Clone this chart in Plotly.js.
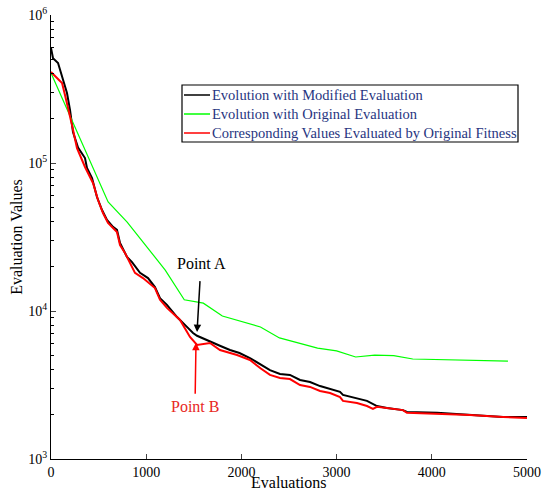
<!DOCTYPE html>
<html>
<head>
<meta charset="utf-8">
<script src="https://cdn.plot.ly/plotly-3.0.1.min.js"></script>
<style>html,body{margin:0;padding:0;background:#fff;}#chart{width:554px;height:497px;}</style>
</head>
<body>
<div id="chart"></div>
<script>
// Evolution with Modified Evaluation (black)
const modX = [0, 21, 74, 126, 168, 200, 231, 284, 357, 378, 431, 483, 536, 588, 651, 693, 725, 798, 851, 935, 1019, 1092, 1145, 1218, 1324, 1420, 1492, 1534, 1600, 1670, 1780, 1880, 1980, 2090, 2200, 2300, 2405, 2510, 2616, 2721, 2826, 2931, 3036, 3067, 3214, 3319, 3424, 3529, 3697, 3739, 4055, 4401, 4748, 5000];
const modY = [6.0e5, 5.1e5, 4.74e5, 3.64e5, 2.97e5, 2.28e5, 1.62e5, 1.27e5, 1.08e5, 9.25e4, 7.92e4, 5.89e4, 4.81e4, 4.12e4, 3.70e4, 3.53e4, 2.88e4, 2.32e4, 2.14e4, 1.81e4, 1.67e4, 1.45e4, 1.22e4, 1.10e4, 9.1e3, 7.9e3, 7.1e3, 6.8e3, 6.5e3, 6.18e3, 5.8e3, 5.45e3, 5.2e3, 4.81e3, 4.35e3, 3.99e3, 3.75e3, 3.70e3, 3.42e3, 3.31e3, 3.11e3, 2.97e3, 2.84e3, 2.71e3, 2.58e3, 2.47e3, 2.28e3, 2.21e3, 2.14e3, 2.08e3, 2.05e3, 1.98e3, 1.92e3, 1.92e3];
// Evolution with Original Evaluation (green)
const origX = [0, 600, 800, 1200, 1400, 1600, 1800, 2200, 2400, 2800, 3000, 3200, 3400, 3600, 3800, 4800];
const origY = [4.06e5, 5.45e4, 3.99e4, 1.89e4, 1.19e4, 1.13e4, 9.25e3, 7.8e3, 6.58e3, 5.62e3, 5.37e3, 4.89e3, 5.04e3, 5.0e3, 4.74e3, 4.59e3];
// Corresponding Values Evaluated by Original Fitness (red)
const corrX = [0, 63, 116, 147, 179, 221, 273, 357, 441, 494, 546, 599, 693, 725, 777, 830, 882, 966, 1061, 1092, 1145, 1218, 1355, 1460, 1534, 1597, 1670, 1775, 1954, 2090, 2200, 2300, 2405, 2510, 2616, 2721, 2826, 2931, 3036, 3067, 3214, 3319, 3382, 3424, 3697, 3739, 4055, 4401, 4748, 5000];
const corrY = [4.12e5, 3.75e5, 3.47e5, 2.88e5, 2.39e5, 1.8e5, 1.26e5, 9.4e4, 7.33e4, 5.62e4, 4.59e4, 3.94e4, 3.42e4, 2.79e4, 2.47e4, 2.11e4, 1.81e4, 1.67e4, 1.50e4, 1.43e4, 1.19e4, 1.05e4, 8.7e3, 6.67e3, 5.89e3, 5.99e3, 6.08e3, 5.45e3, 5.04e3, 4.67e3, 4.1e3, 3.70e3, 3.53e3, 3.47e3, 3.16e3, 3.07e3, 2.88e3, 2.79e3, 2.62e3, 2.47e3, 2.39e3, 2.28e3, 2.18e3, 2.25e3, 2.14e3, 2.05e3, 2.02e3, 1.98e3, 1.92e3, 1.89e3];

const xTicks = [0, 1000, 2000, 3000, 4000, 5000];
const yTicks = [1e3, 1e4, 1e5, 1e6];
const yTickText = ['10<sup>3</sup>', '10<sup>4</sup>', '10<sup>5</sup>', '10<sup>6</sup>'];
const names = ['Evolution with Modified Evaluation', 'Evolution with Original Evaluation', 'Corresponding Values Evaluated by Original Fitness'];
const colors = ['#000000', '#00ff00', '#ff0000'];
const widths = [2, 1.2, 2];

const minorVals = [];
for (let e = 3; e < 6; e++) for (let d = 2; d <= 9; d++) minorVals.push(d * Math.pow(10, e));

const font = 'Liberation Serif, Times New Roman, serif';
const xs = [modX, origX, corrX], ys = [modY, origY, corrY];
const traces = xs.map((x, i) => ({x: x, y: ys[i], name: names[i], mode: 'lines',
  line: {color: colors[i], width: widths[i]}, showlegend: false}));

// custom legend (pixel positions converted to paper coords)
const L = 51, W = 476, T = 15, H = 444;
const px = p => (p - L) / W, py = p => (T + H - p) / H;
const shapes = [{type: 'rect', xref: 'paper', yref: 'paper', x0: px(182), x1: px(518), y0: py(142), y1: py(85),
  line: {color: '#000', width: 1.2}, fillcolor: '#fff', layer: 'above'}];
const rowY = [95, 114, 133];
const annotations = [];
names.forEach((n, i) => {
  shapes.push({type: 'line', xref: 'paper', yref: 'paper', x0: px(184), x1: px(210), y0: py(rowY[i]), y1: py(rowY[i]),
    line: {color: colors[i], width: 1.5}, layer: 'above'});
  annotations.push({xref: 'paper', yref: 'paper', x: px(210), y: py(rowY[i]), xanchor: 'left', yanchor: 'middle',
    text: n, showarrow: false, font: {family: font, size: 14.5, color: '#27357f'}});
});
annotations.push(
  {x: 1534, y: Math.log10(7.2e3), xref: 'x', yref: 'y', text: 'Point A', showarrow: true,
   ax: 4, ay: -69, arrowhead: 2, arrowsize: 1, arrowwidth: 1.5, arrowcolor: '#000', startstandoff: 8,
   font: {family: font, size: 16, color: '#000'}},
  {x: 1523, y: Math.log10(6.1e3), xref: 'x', yref: 'y', text: 'Point B', showarrow: true,
   ax: -1, ay: 64, arrowhead: 2, arrowsize: 1, arrowwidth: 1.5, arrowcolor: '#ff0000', startstandoff: 3,
   font: {family: font, size: 16, color: '#e8281e'}},
  {xref: 'paper', yref: 'paper', x: 0.5, y: py(483), xanchor: 'center', yanchor: 'middle', showarrow: false,
   text: 'Evaluations', font: {family: font, size: 16, color: '#000'}}
);

const layout = {
  width: 554, height: 497,
  margin: {l: 51, r: 27, t: 15, b: 38},
  paper_bgcolor: '#fff', plot_bgcolor: '#fff',
  font: {family: font, size: 14, color: '#000'},
  showlegend: false,
  xaxis: {range: [0, 5000], tickmode: 'array', tickvals: xTicks, ticks: 'inside', ticklen: 5,
    showline: true, linecolor: '#000', linewidth: 1, mirror: false, showgrid: false, zeroline: false,
    tickfont: {family: font, size: 14, color: '#000'}},
  yaxis: {type: 'log', range: [3, 6], tickmode: 'array', tickvals: yTicks, ticktext: yTickText,
    ticks: 'inside', ticklen: 5, showline: true, linecolor: '#000', linewidth: 1, mirror: false,
    showgrid: false, zeroline: false, tickfont: {family: font, size: 14, color: '#000'},
    minor: {tickmode: 'array', tickvals: minorVals, ticks: 'inside', ticklen: 3, tickcolor: '#000', showgrid: false},
    title: {text: 'Evaluation Values', font: {family: font, size: 16, color: '#000'}, standoff: 1}},
  shapes: shapes,
  annotations: annotations
};

Plotly.newPlot('chart', traces, layout, {displayModeBar: false, staticPlot: true});
</script>
</body>
</html>
